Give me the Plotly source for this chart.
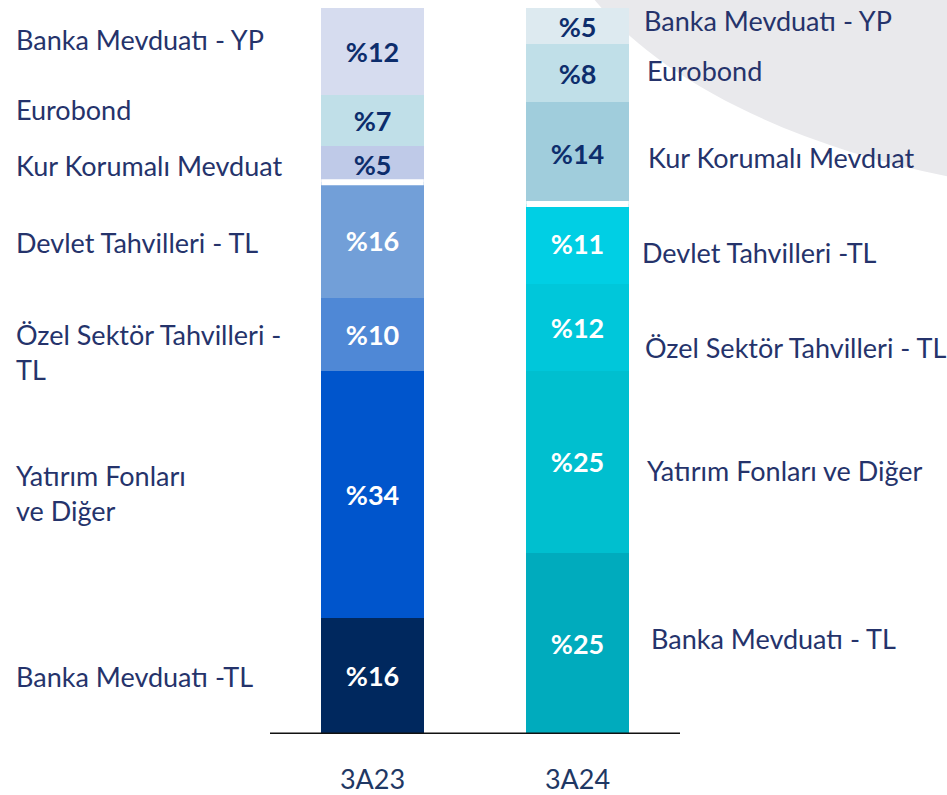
import plotly.graph_objects as go

# ---------------- data ----------------
periods = ["3A23", "3A24"]
# stacking order: bottom -> top
series_names = [
    "Banka Mevduatı - TL",
    "Yatırım Fonları ve Diğer",
    "Özel Sektör Tahvilleri - TL",
    "Devlet Tahvilleri - TL",
    "Kur Korumalı Mevduat",
    "Eurobond",
    "Banka Mevduatı - YP",
]
values_3a23 = [16, 34, 10, 16, 5, 7, 12]
values_3a24 = [25, 25, 12, 11, 14, 8, 5]
tl_series_count = 4  # first four series are TL assets (white separator above them)

left_labels = [
    "Banka Mevduatı -TL",
    "Yatırım Fonları<br>ve Diğer",
    "Özel Sektör Tahvilleri -<br>TL",
    "Devlet Tahvilleri - TL",
    "Kur Korumalı Mevduat",
    "Eurobond",
    "Banka Mevduatı - YP",
]
right_labels = [
    "Banka Mevduatı - TL",
    "Yatırım Fonları ve Diğer",
    "Özel Sektör Tahvilleri - TL",
    "Devlet Tahvilleri -TL",
    "Kur Korumalı Mevduat",
    "Eurobond",
    "Banka Mevduatı - YP",
]

# ---------------- styles ----------------
colors_3a23 = ["#00285e", "#0055cc", "#4f88d6", "#729fd8", "#bfcae8", "#c0dfe8", "#d6dcef"]
colors_3a24 = ["#00abbd", "#00bfcf", "#00c7da", "#00cfe4", "#a0cddc", "#c0dfe8", "#ddeaf0"]
txt_3a23 = ["white", "white", "white", "white", "#0d2d6c", "#0d2d6c", "#0d2d6c"]
txt_3a24 = ["white", "white", "white", "white", "#0d2d6c", "#0d2d6c", "#0d2d6c"]

FONT = "Lato"
LABEL_COLOR = "#25336b"
W, H = 947, 795
ML, MR, MT, MB = 0, 0, 8, 58
PLOT_H = H - MT - MB

# pixel layout for side labels
left_pos = [(14, 679), (14, 495), (14, 353), (14, 243), (14, 166), (14, 110), (14, 40)]
right_pos = [(649, 641), (645, 472), (643, 349), (640, 254), (646, 158), (645, 71), (642, 21)]


def to_paper(px, py):
    return px / (W - ML - MR), (H - MB - py) / PLOT_H


fig = go.Figure()
xs = [0, 1]
for i, name in enumerate(series_names):
    yv = [values_3a23[i], values_3a24[i]]
    fig.add_trace(go.Bar(
        x=xs, y=yv, name=name, width=0.502,
        marker=dict(color=[colors_3a23[i], colors_3a24[i]], line=dict(width=0)),
        text=[f"%{v}" for v in yv],
        textposition="inside", insidetextanchor="middle", textangle=0,
        textfont=dict(family=FONT, size=27, color=[txt_3a23[i], txt_3a24[i]], weight="bold"),
        constraintext="none",
        hoverinfo="skip",
    ))

shapes = []
# background curved grey shape (top-right)
pts = [(593, -2), (663, 84), (797, 147), (947, 177)]
pp = [to_paper(*p) for p in pts]
tr = to_paper(950, -2)
path = (f"M {pp[0][0]},{pp[0][1]} C {pp[1][0]},{pp[1][1]} {pp[2][0]},{pp[2][1]} {pp[3][0]},{pp[3][1]} "
        f"L {tr[0]},{pp[3][1]} L {tr[0]},{tr[1]} Z")
shapes.append(dict(type="path", xref="paper", yref="paper", path=path,
                   fillcolor="#e9e9ec", line=dict(width=0), layer="below"))

# white separator between TL and FX assets
for xi, vals in zip(xs, [values_3a23, values_3a24]):
    ysep = sum(vals[:tl_series_count])
    shapes.append(dict(type="line", xref="x", yref="y", x0=xi - 0.25, x1=xi + 0.25,
                       y0=ysep, y1=ysep, line=dict(color="white", width=6), layer="above"))

# baseline axis
a0 = to_paper(270, 0)[0]
a1 = to_paper(680, 0)[0]
shapes.append(dict(type="line", xref="paper", yref="y", x0=a0, x1=a1, y0=0, y1=0,
                   line=dict(color="#111111", width=3), layer="above"))

annotations = []
for txt, (px, py) in zip(left_labels, left_pos):
    xp, yp = to_paper(px, py)
    annotations.append(dict(text=txt, x=xp, y=yp, xref="paper", yref="paper",
                            xanchor="left", yanchor="middle", align="left", showarrow=False,
                            font=dict(family=FONT, size=27, color=LABEL_COLOR)))
for txt, (px, py) in zip(right_labels, right_pos):
    xp, yp = to_paper(px, py)
    annotations.append(dict(text=txt, x=xp, y=yp, xref="paper", yref="paper",
                            xanchor="left", yanchor="middle", align="left", showarrow=False,
                            font=dict(family=FONT, size=27, color=LABEL_COLOR)))

fig.update_layout(
    width=W, height=H, autosize=False,
    margin=dict(l=ML, r=MR, t=MT, b=MB, pad=0),
    barmode="stack",
    showlegend=False,
    plot_bgcolor="rgba(0,0,0,0)",
    paper_bgcolor="white",
    shapes=shapes,
    annotations=annotations,
    uniformtext=dict(mode=False),
    xaxis=dict(range=[-1.817, 2.802], tickvals=xs, ticktext=periods, showgrid=False,
               zeroline=False, showline=False, ticks="outside", ticklen=22,
               tickcolor="rgba(0,0,0,0)",
               tickfont=dict(family=FONT, size=27, color="#1f3864")),
    yaxis=dict(range=[0, 100], visible=False, showgrid=False, zeroline=False),
)

fig.write_html("out.html", config={"displayModeBar": False},
               post_script="document.body.style.margin='0';document.body.style.overflow='hidden';")
